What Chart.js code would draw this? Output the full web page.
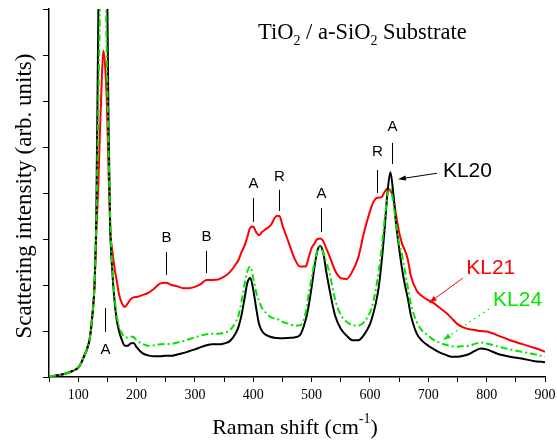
<!DOCTYPE html>
<html>
<head>
<meta charset="utf-8">
<script src="https://cdn.jsdelivr.net/npm/chart.js@4.4.1/dist/chart.umd.min.js"></script>
<style>
  html, body { margin: 0; padding: 0; background: #fff; }
  canvas { display: block; }
</style>
</head>
<body>
<canvas id="raman" width="557" height="442"></canvas>
<script>
// --- spectra (cm-1 vs. intensity, arb. units) ---
const ramanShift = [50, 60, 70, 80, 90, 100,
  105, 110, 115, 120, 124, 128, 131, 134, 137, 140,
  143, 146, 149, 152, 155, 158, 162, 166, 170, 175,
  180, 185, 190, 195, 200, 210, 220, 230, 240, 250,
  260, 270, 280, 290, 300, 310, 320, 330, 340, 350,
  360, 370, 375, 380, 385, 390, 395, 400, 405, 410,
  415, 420, 430, 440, 445, 450, 460, 470, 480, 490,
  495, 500, 505, 510, 515, 520, 525, 530, 540, 550,
  560, 570, 580, 590, 600, 605, 610, 615, 620, 625,
  630, 635, 640, 645, 650, 655, 660, 665, 670, 680,
  690, 700, 710, 720, 730, 740, 750, 760, 770, 780,
  790, 800, 810, 820, 840, 860, 880, 900];

const kl20 = [0.02, 0.03, 0.05, 0.08, 0.13, 0.2,
  0.3, 0.45, 0.6, 0.85, 1.3, 2.0, 3.5, 7.2, 11, 14,
  15, 13, 9.5, 5.5, 3.2, 2.4, 1.7, 1.25, 1.0, 0.8,
  0.68, 0.68, 0.73, 0.74, 0.65, 0.52, 0.47, 0.45, 0.45, 0.46,
  0.46, 0.49, 0.52, 0.56, 0.6, 0.65, 0.69, 0.71, 0.71, 0.73,
  0.78, 0.95, 1.1, 1.35, 1.7, 2.05, 2.15, 1.9, 1.5, 1.15,
  1.0, 0.93, 0.87, 0.85, 0.84, 0.84, 0.85, 0.86, 0.91, 1.25,
  1.55, 1.95, 2.4, 2.75, 2.85, 2.7, 2.3, 1.95, 1.35, 1.05,
  0.9, 0.8, 0.8, 0.92, 1.15, 1.35, 1.6, 1.95, 2.5, 3.2,
  4.0, 4.45, 4.0, 3.3, 2.8, 2.35, 2.0, 1.7, 1.35, 0.95,
  0.78, 0.68, 0.6, 0.53, 0.48, 0.44, 0.44, 0.46, 0.5, 0.57,
  0.62, 0.6, 0.55, 0.5, 0.44, 0.4, 0.35, 0.32];

const kl21 = [0.02, 0.03, 0.05, 0.08, 0.13, 0.2,
  0.3, 0.45, 0.6, 0.85, 1.3, 2.0, 3.1, 4.0, 5.2, 6.3,
  7.1, 6.8, 6.0, 4.5, 3.2, 2.8, 2.4, 2.1, 1.8, 1.6,
  1.52, 1.6, 1.69, 1.73, 1.74, 1.78, 1.83, 1.92, 2.03, 2.05,
  2.0, 1.97, 1.93, 1.93, 1.96, 2.02, 2.11, 2.11, 2.12, 2.18,
  2.28, 2.45, 2.55, 2.72, 2.85, 3.05, 3.25, 3.27, 3.15, 3.08,
  3.15, 3.2, 3.3, 3.5, 3.5, 3.3, 2.95, 2.6, 2.4, 2.4,
  2.6, 2.8, 2.9, 3.0, 3.01, 2.95, 2.8, 2.65, 2.32, 2.15,
  2.13, 2.3, 2.6, 3.15, 3.6, 3.78, 3.88, 3.9, 3.91, 4.02,
  4.1, 4.05, 3.9, 3.5, 3.15, 2.9, 2.75, 2.55, 2.2, 1.88,
  1.75, 1.67, 1.6, 1.5, 1.4, 1.28, 1.15, 1.08, 1.04, 1.02,
  1.0, 0.99, 0.95, 0.9, 0.8, 0.72, 0.64, 0.55];

const kl24 = [0.02, 0.03, 0.05, 0.08, 0.13, 0.2,
  0.3, 0.45, 0.6, 0.85, 1.3, 2.0, 3.3, 5.5, 7.8, 10.5,
  11, 9.5, 7.0, 5.0, 3.4, 2.5, 1.8, 1.35, 1.1, 0.95,
  0.86, 0.86, 0.88, 0.87, 0.8, 0.72, 0.68, 0.69, 0.71, 0.72,
  0.72, 0.75, 0.78, 0.82, 0.86, 0.9, 0.93, 0.94, 0.94, 0.96,
  1.02, 1.2, 1.35, 1.65, 2.0, 2.3, 2.4, 2.15, 1.85, 1.65,
  1.5, 1.42, 1.3, 1.26, 1.24, 1.2, 1.16, 1.12, 1.12, 1.4,
  1.8, 2.15, 2.5, 2.75, 2.83, 2.7, 2.5, 2.3, 1.7, 1.35,
  1.2, 1.13, 1.12, 1.2, 1.4, 1.6, 1.9, 2.3, 2.8, 3.4,
  3.95, 4.1, 3.8, 3.3, 2.9, 2.65, 2.3, 1.95, 1.6, 1.2,
  1.0, 0.9, 0.8, 0.74, 0.7, 0.67, 0.66, 0.67, 0.68, 0.72,
  0.75, 0.73, 0.7, 0.66, 0.6, 0.55, 0.5, 0.44];

// phase marks: A = anatase, R = rutile, B = brookite
const markText = ['A', 'B', 'B', 'A', 'R', 'A', 'R', 'A'];
const markX    = [146, 250, 319, 400, 445, 516, 612, 637];
const markLow  = [0.98, 2.22, 2.26, 3.37, 3.61, 3.15, 4.0, 4.63];
const markHigh = [1.5, 2.72, 2.74, 3.89, 4.07, 3.67, 4.5, 5.09];
const markLabelY = [0.59, 3.02, 3.04, 4.2, 4.35, 3.98, 4.89, 5.43];

// sample names with their arrows
const sampleNames = ['KL20', 'KL21', 'KL24'];
const sampleColors = ['#000000', '#ff0000', '#00e600'];
const nameX = [725, 765, 811];
const nameY = [4.48, 2.37, 1.67];
const arrowFromX = [715, 759, 804];
const arrowFromY = [4.43, 2.15, 1.48];
const arrowToX = [648, 701, 725];
const arrowToY = [4.3, 1.61, 0.8];

const xTicks = [100, 200, 300, 400, 500, 600, 700, 800, 900];

const SERIF = '"Liberation Serif", "Times New Roman", serif';
const SANS = '"Liberation Sans", Arial, sans-serif';

function toPoints(ys) {
    return ramanShift.map((x, i) => ({ x: x, y: ys[i] }));
}

// text with sub/superscript runs: parts = [[text, isScript], ...]
function drawScripted(ctx, parts, x, y, size, shift) {
    let cx = x;
    parts.forEach(([t, script]) => {
        ctx.font = (script ? Math.round(size * 0.62) : size) + 'px ' + SERIF;
        ctx.fillText(t, cx, script ? y + shift : y);
        cx += ctx.measureText(t).width;
    });
    return cx - x;
}

function measureScripted(ctx, parts, size) {
    let w = 0;
    parts.forEach(([t, script]) => {
        ctx.font = (script ? Math.round(size * 0.62) : size) + 'px ' + SERIF;
        w += ctx.measureText(t).width;
    });
    return w;
}

function drawArrow(ctx, x1, y1, x2, y2, color, dotted) {
    const ang = Math.atan2(y2 - y1, x2 - x1);
    const head = 8, half = 2.6;
    const bx = x2 - head * Math.cos(ang), by = y2 - head * Math.sin(ang);
    ctx.save();
    ctx.strokeStyle = color;
    ctx.fillStyle = color;
    ctx.lineWidth = dotted ? 1.3 : 1;
    if (dotted) ctx.setLineDash([1.5, 4]);
    ctx.beginPath();
    ctx.moveTo(x1, y1);
    ctx.lineTo(bx, by);
    ctx.stroke();
    ctx.setLineDash([]);
    ctx.beginPath();
    ctx.moveTo(x2, y2);
    ctx.lineTo(bx + half * Math.sin(ang), by - half * Math.cos(ang));
    ctx.lineTo(bx - half * Math.sin(ang), by + half * Math.cos(ang));
    ctx.closePath();
    ctx.fill();
    ctx.restore();
}

// titles, phase marks and sample arrows
const annotations = {
    id: 'annotations',
    afterDraw(chart) {
        const ctx = chart.ctx;
        const xs = chart.scales.x, ys = chart.scales.y;
        ctx.save();
        ctx.fillStyle = '#000';
        ctx.textBaseline = 'alphabetic';
        ctx.textAlign = 'left';

        // header
        drawScripted(ctx, [['TiO', 0], ['2', 1], [' / a-SiO', 0], ['2', 1], [' Substrate', 0]], 258, 39, 22.5, 6);

        // x axis title with cm^-1
        const xt = [['Raman shift (cm', 0], ['-1', 1], [')', 0]];
        const xw = measureScripted(ctx, xt, 22);
        let cx = 295 - xw / 2;
        ctx.font = '22px ' + SERIF;
        ctx.fillText('Raman shift (cm', cx, 434);
        cx += ctx.measureText('Raman shift (cm').width;
        ctx.font = '14px ' + SERIF;
        ctx.fillText('-1', cx, 423);
        cx += ctx.measureText('-1').width;
        ctx.font = '22px ' + SERIF;
        ctx.fillText(')', cx, 434);

        // y axis title
        ctx.save();
        ctx.translate(31, 196);
        ctx.rotate(-Math.PI / 2);
        ctx.textAlign = 'center';
        ctx.font = '23px ' + SERIF;
        ctx.fillText('Scattering intensity (arb. units)', 0, 0);
        ctx.restore();

        // phase marks
        ctx.strokeStyle = '#000';
        ctx.lineWidth = 1;
        ctx.textAlign = 'center';
        ctx.textBaseline = 'middle';
        ctx.font = '15px ' + SANS;
        markText.forEach((t, i) => {
            const px = Math.round(xs.getPixelForValue(markX[i])) + 0.5;
            ctx.beginPath();
            ctx.moveTo(px, ys.getPixelForValue(markLow[i]));
            ctx.lineTo(px, ys.getPixelForValue(markHigh[i]));
            ctx.stroke();
            ctx.fillText(t, px, ys.getPixelForValue(markLabelY[i]));
        });

        // sample names
        ctx.textAlign = 'left';
        ctx.font = '21px ' + SANS;
        sampleNames.forEach((n, i) => {
            ctx.fillStyle = sampleColors[i];
            ctx.fillText(n, xs.getPixelForValue(nameX[i]), ys.getPixelForValue(nameY[i]));
            drawArrow(ctx,
                xs.getPixelForValue(arrowFromX[i]), ys.getPixelForValue(arrowFromY[i]),
                xs.getPixelForValue(arrowToX[i]), ys.getPixelForValue(arrowToY[i]),
                sampleColors[i], n === 'KL24');
        });
        ctx.restore();
    }
};

function buildChart() {
    const ctx = document.getElementById('raman').getContext('2d');
    return new Chart(ctx, {
        type: 'line',
        data: {
            datasets: [
                // first dataset is painted last (on top)
                { label: 'KL24', data: toPoints(kl24), borderColor: '#00e600', borderWidth: 2, borderDash: [7, 3, 2, 3] },
                { label: 'KL20', data: toPoints(kl20), borderColor: '#000000', borderWidth: 2 },
                { label: 'KL21', data: toPoints(kl21), borderColor: '#ff0000', borderWidth: 2 }
            ]
        },
        options: {
            responsive: false,
            animation: false,
            events: [],
            layout: { padding: { left: 0, top: 9, right: 12, bottom: 0 } },
            elements: {
                point: { radius: 0 },
                line: { tension: 0, cubicInterpolationMode: 'monotone', fill: false }
            },
            plugins: { legend: { display: false }, tooltip: { enabled: false } },
            scales: {
                x: {
                    type: 'linear',
                    min: 50, max: 900,
                    afterFit(scale) {
                        scale.height = 65;
                        // let the "900" label run past the plot edge
                        scale.paddingLeft = 0;
                        scale.paddingRight = 0;
                    },
                    afterBuildTicks(scale) {
                        const t = [];
                        for (let v = 50; v <= 900; v += 50) t.push({ value: v });
                        scale.ticks = t;
                    },
                    grid: { drawOnChartArea: false, drawTicks: true, tickLength: 5, color: '#000', lineWidth: 1 },
                    border: { display: true, color: '#000', width: 1.5 },
                    ticks: {
                        autoSkip: false,
                        maxRotation: 0,
                        padding: 5,
                        color: '#000',
                        font: { family: SERIF, size: 14 },
                        callback: v => xTicks.includes(v) ? String(v) : ''
                    }
                },
                y: {
                    min: 0, max: 8,
                    afterFit(scale) {
                        scale.width = 49;
                        scale.paddingTop = 0;
                        scale.paddingBottom = 0;
                    },
                    grid: { drawOnChartArea: false, drawTicks: true, tickLength: 6, color: '#000', lineWidth: 1 },
                    border: { display: true, color: '#000', width: 1.5 },
                    ticks: { display: false, stepSize: 1 }
                }
            }
        },
        plugins: [annotations]
    });
}

document.addEventListener('DOMContentLoaded', () => {
    buildChart();
});
</script>
</body>
</html>
